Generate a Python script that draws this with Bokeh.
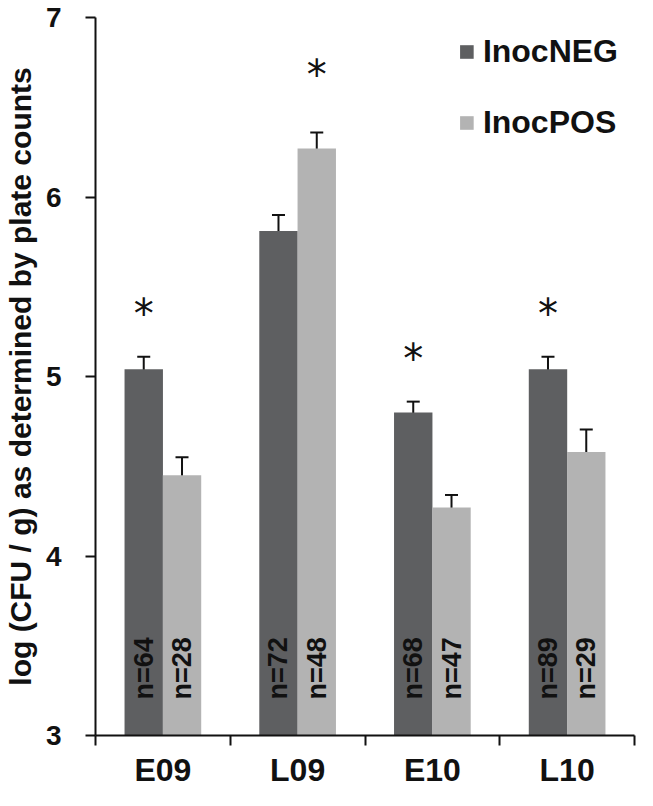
import numpy as np
from bokeh.plotting import figure
from bokeh.models import (ColumnDataSource, FixedTicker, Whisker, TeeHead, Legend, LegendItem, Range1d)
from bokeh.core.properties import value
from bokeh.embed import file_html
from bokeh.resources import INLINE

# ---- data ----
groups = ["E09", "L09", "E10", "L10"]
neg_mean = [5.04, 5.81, 4.80, 5.04]
neg_err = [0.07, 0.09, 0.06, 0.07]
pos_mean = [4.45, 6.27, 4.27, 4.58]
pos_err = [0.10, 0.09, 0.07, 0.125]
neg_n = ["n=64", "n=72", "n=68", "n=89"]
pos_n = ["n=28", "n=48", "n=47", "n=29"]
# which series carries the significance asterisk in each group
sig_series = ["NEG", "POS", "NEG", "NEG"]
y_ticks = [3, 4, 5, 6, 7]

NEG_COLOR = "#5e5f61"
POS_COLOR = "#b3b3b3"
INK = "#111111"
FONT = "Liberation Sans"

centers = np.arange(len(groups)) + 0.5
dodge = 0.142
bar_w = 0.285
x_neg = centers - dodge
x_pos = centers + dodge

src_neg = ColumnDataSource(dict(x=x_neg, top=neg_mean, lo=np.array(neg_mean) - np.array(neg_err),
                                hi=np.array(neg_mean) + np.array(neg_err), n=neg_n))
src_pos = ColumnDataSource(dict(x=x_pos, top=pos_mean, lo=np.array(pos_mean) - np.array(pos_err),
                                hi=np.array(pos_mean) + np.array(pos_err), n=pos_n))

p = figure(width=637, height=790, output_backend="svg", toolbar_location=None,
           x_range=Range1d(0, len(groups)), y_range=Range1d(3, 7),
           min_border_left=88, min_border_right=3, min_border_top=17, min_border_bottom=40)
p.outline_line_color = None
p.grid.grid_line_color = None
p.background_fill_color = "white"

r_neg = p.vbar(x="x", top="top", bottom=3, width=bar_w, source=src_neg,
               fill_color=NEG_COLOR, line_color=None)
r_pos = p.vbar(x="x", top="top", bottom=3, width=bar_w, source=src_pos,
               fill_color=POS_COLOR, line_color=None)

for src in (src_neg, src_pos):
    w = Whisker(base="x", upper="hi", lower="lo", source=src,
                line_color=INK, line_width=2,
                upper_head=TeeHead(size=13, line_width=2, line_color=INK),
                lower_head=TeeHead(size=13, line_width=2, line_color=INK))
    p.add_layout(w)

# n labels, rotated
for src in (src_neg, src_pos):
    p.text(x="x", y=3.2, text="n", source=src, angle=np.pi / 2,
           text_align="left", text_baseline="middle",
           text_font=value(FONT), text_font_style="bold",
           text_font_size="27px", text_color=INK)

# asterisks
ast_x, ast_y = [], []
for i, s in enumerate(sig_series):
    if s == "NEG":
        ast_x.append(x_neg[i]); ast_y.append(neg_mean[i] + neg_err[i] + 0.24)
    else:
        ast_x.append(x_pos[i]); ast_y.append(pos_mean[i] + pos_err[i] + 0.32)
p.text(x=ast_x, y=ast_y, text=["*"] * len(ast_x), text_align="center", text_baseline="middle",
       text_font=value("DejaVu Sans"), text_font_size="40px", text_color=INK)

# axes
xa = p.xaxis[0]
xa.ticker = FixedTicker(ticks=list(centers), minor_ticks=list(range(len(groups) + 1)))
xa.major_label_overrides = {float(c): g for c, g in zip(centers, groups)}
xa.major_tick_out = 10
xa.major_tick_in = 0
xa.major_tick_line_color = None
xa.minor_tick_out = 10
xa.minor_tick_in = 0
xa.minor_tick_line_width = 2
xa.minor_tick_line_color = INK
xa.axis_line_width = 2
xa.axis_line_color = INK
xa.major_label_text_font = FONT
xa.major_label_text_font_style = "bold"
xa.major_label_text_font_size = "32px"
xa.major_label_text_color = INK
xa.major_label_standoff = 6

ya = p.yaxis[0]
ya.ticker = FixedTicker(ticks=y_ticks)
ya.minor_tick_line_color = None
ya.major_tick_out = 10
ya.major_tick_in = 0
ya.major_tick_line_width = 2
ya.major_tick_line_color = INK
ya.axis_line_width = 2
ya.axis_line_color = INK
ya.major_label_text_font = FONT
ya.major_label_text_font_style = "bold"
ya.major_label_text_font_size = "28px"
ya.major_label_text_color = INK
ya.major_label_standoff = 24
ya.axis_label = "log (CFU / g) as determined by plate counts"
ya.axis_label_text_font = FONT
ya.axis_label_text_font_style = "bold"
ya.axis_label_text_font_size = "30px"
ya.axis_label_text_color = INK
ya.axis_label_standoff = 6

legend = Legend(items=[LegendItem(label="InocNEG", renderers=[r_neg]),
                       LegendItem(label="InocPOS", renderers=[r_pos])],
                location="top_right", border_line_color=None, background_fill_alpha=0,
                glyph_width=17, glyph_height=17, label_standoff=8, spacing=34,
                label_text_font=FONT, label_text_font_style="bold",
                label_text_font_size="32px", label_text_color=INK,
                padding=0, margin=16)
p.add_layout(legend)

open("out.html", "w").write(file_html(p, INLINE))
